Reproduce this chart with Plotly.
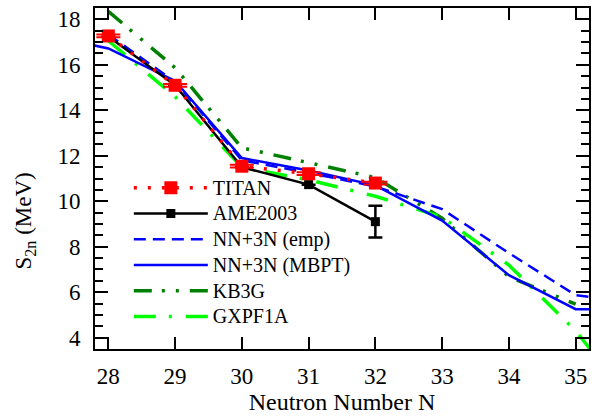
import plotly.graph_objects as go

# ---- data ----
N_exp = [28, 29, 30, 31, 32]
titan = [17.27, 15.10, 11.54, 11.21, 10.80]
titan_err = [0.06, 0.06, 0.06, 0.06, 0.06]
ame = [17.25, 15.10, 11.50, 10.73, 9.10]
ame_err = [0.0, 0.0, 0.0, 0.0, 0.7]

N_emp = [28, 29, 30, 31, 32, 33, 34, 35, 36]
emp = [17.33, 15.25, 11.80, 11.25, 10.65, 9.65, 7.72, 5.87, 5.47]

N_mbpt = [27, 28, 29, 30, 31, 32, 33, 34, 35, 36]
mbpt = [17.35, 16.72, 15.29, 11.90, 11.35, 10.70, 9.15, 6.75, 5.25, 5.25]

N_kb3g = [28, 29, 30, 31, 32, 33, 34, 35]
kb3g = [18.35, 15.87, 12.35, 11.68, 11.04, 9.25, 6.68, 5.47]

N_gx = [28, 29, 30, 31, 32, 33, 34, 35, 36]
gxpf1a = [17.06, 14.60, 11.50, 10.94, 10.22, 9.30, 7.19, 4.30, 0.6]

x_ticks = [28, 29, 30, 31, 32, 33, 34, 35]
y_ticks = [4, 6, 8, 10, 12, 14, 16, 18]

FONT = "Liberation Serif"


def lbl(text):
    return '<span style="font-size:20px">' + text + '</span>'


fig = go.Figure()

fig.add_trace(go.Scatter(
    x=N_kb3g, y=kb3g, name=lbl("KB3G"), mode="lines", legendrank=5,
    line=dict(color="#008000", width=3.5, dash="18px,10px,3px,11px,3px,11px"),
))
fig.add_trace(go.Scatter(
    x=N_gx, y=gxpf1a, name=lbl("GXPF1A"), mode="lines", legendrank=6,
    line=dict(color="#00ff00", width=3.5, dash="22px,13px,3px,14px"),
))
fig.add_trace(go.Scatter(
    x=N_emp, y=emp, name=lbl("NN+3N (emp)"), mode="lines", legendrank=3,
    line=dict(color="#0000ff", width=2.5, dash="12px,7px"),
))
fig.add_trace(go.Scatter(
    x=N_mbpt, y=mbpt, name=lbl("NN+3N (MBPT)"), mode="lines", legendrank=4,
    line=dict(color="#0000ff", width=2.5),
))
fig.add_trace(go.Scatter(
    x=N_exp, y=ame, name=lbl("AME2003"), mode="lines+markers", legendrank=2,
    line=dict(color="black", width=2.5),
    marker=dict(symbol="square", size=9, color="black"),
    error_y=dict(type="data", array=ame_err, color="black", thickness=2.5, width=7),
))
fig.add_trace(go.Scatter(
    x=N_exp, y=titan, name=lbl("TITAN"), mode="lines+markers", legendrank=1,
    line=dict(color="#ff0000", width=3.5, dash="3px,11px"),
    marker=dict(symbol="square", size=13, color="#ff0000"),
    error_y=dict(type="data", array=titan_err, color="#ff0000", thickness=2, width=12),
))

axis_common = dict(
    showline=True, linecolor="black", linewidth=2, mirror="ticks",
    ticks="inside", tickcolor="black", tickwidth=2,
    showgrid=False, zeroline=False,
    tickfont=dict(family=FONT, size=23, color="black"),
)

fig.update_xaxes(
    range=[27.8, 35.2], tickvals=x_ticks, ticklen=12,
    title=dict(text="Neutron Number N", font=dict(family=FONT, size=24, color="black"), standoff=5),
    ticklabelstandoff=5,
    **axis_common,
)
fig.update_yaxes(
    range=[3.5, 18.5], tickvals=y_ticks, ticklen=13,
    minor=dict(dtick=0.5, tick0=0, ticklen=8, ticks="inside", tickcolor="black", tickwidth=2),
    ticklabelstandoff=8,
    **axis_common,
)

fig.add_annotation(
    text="S<sub>2n</sub> (MeV)", textangle=-90,
    xref="paper", yref="paper", x=-0.141, y=0.375,
    xanchor="center", yanchor="middle", showarrow=False,
    font=dict(family=FONT, size=23, color="black"),
)

fig.update_layout(
    width=592, height=416,
    margin=dict(l=95, r=1, t=8, b=67),
    paper_bgcolor="white", plot_bgcolor="white",
    font=dict(family=FONT, color="black"),
    legend=dict(
        x=0.0685, y=0.525, xanchor="left", yanchor="top",
        bgcolor="rgba(0,0,0,0)", borderwidth=0,
        font=dict(family=FONT, size=17.5, color="black"),
        itemwidth=74, tracegroupgap=0,
    ),
)

fig.write_html("out.html", config={"displayModeBar": False},
               post_script="document.body.style.margin='0';document.body.style.padding='0';")
